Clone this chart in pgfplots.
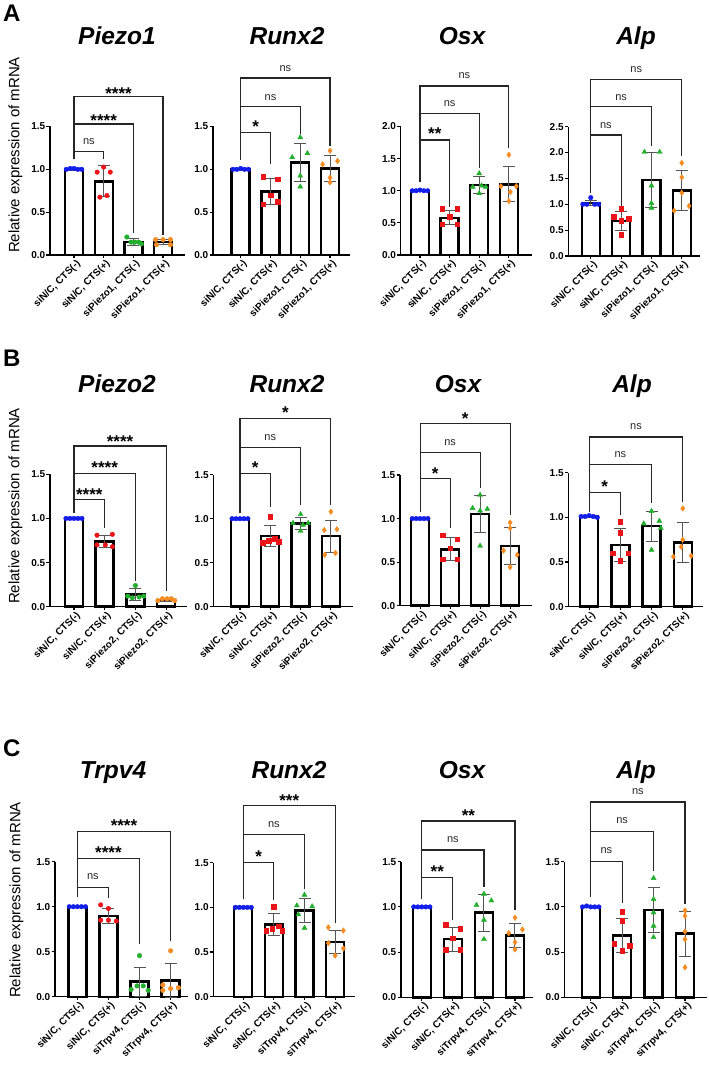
\documentclass[border=0pt]{standalone}
\usepackage{fontspec}
\setmainfont{Liberation Sans}
\usepackage{pgfplots}
\pgfplotsset{compat=1.18}

\definecolor{cblue}{RGB}{20,30,235}
\definecolor{cred}{RGB}{235,20,25}
\definecolor{cgreen}{RGB}{35,175,45}
\definecolor{corange}{RGB}{245,140,35}
\definecolor{errgray}{RGB}{85,85,85}

\newcommand{\ticklbl}{\fontsize{10}{11}\selectfont\bfseries}
\newcommand{\ttl}{\fontsize{24.5}{26}\selectfont\bfseries\itshape}
\newcommand{\panelletter}{\fontsize{24}{26}\selectfont\bfseries}
\newcommand{\ylab}{\fontsize{15}{16}\selectfont}

% bracket: right bar, label x, bracket height, left foot, right foot, label height, label style, label
\newcommand{\brk}[8]{%
  \draw[brkline] (axis cs:0,#4) |- (axis cs:#1,#3) -- (axis cs:#1,#5);
  \node[#7] at (axis cs:#2,#6) {#8};}

\tikzset{
  brkline/.style={line width=1.2pt, black!85},
  nsl/.style={anchor=base, yshift=-2.9pt, inner sep=0pt, font=\fontsize{11}{12}\selectfont, text=black!85},
  stl/.style={anchor=base, yshift=-9.8pt, inner sep=0pt, font=\fontsize{17}{18}\selectfont\bfseries},
}

\pgfplotsset{
  panel/.style={
    scale only axis, clip=false, anchor=south west,
    axis lines=left, axis line style={-, line width=1.3pt, black},
    ymin=0, ytick distance=0.5, xtick={0,1,2,3},
    major tick length=3.5pt, tick align=outside,
    tick style={line width=1.1pt, black},
    y tick label style={font=\ticklbl, inner xsep=1pt,
      /pgf/number format/fixed, /pgf/number format/fixed zerofill,
      /pgf/number format/precision=1, /pgf/number format/assume math mode=true},
    x tick label style={font=\ticklbl, rotate=45, anchor=east, inner sep=1pt, xshift=2pt, yshift=-6pt},
  },
  rowA/.style={panel, height=128.5pt, xticklabels={{siN/C, CTS(-)},{siN/C, CTS(+)},{siPiezo1, CTS(-)},{siPiezo1, CTS(+)}}},
  rowB/.style={panel, xticklabels={{siN/C, CTS(-)},{siN/C, CTS(+)},{siPiezo2, CTS(-)},{siPiezo2, CTS(+)}}},
  rowC/.style={panel, xticklabels={{siN/C, CTS(-)},{siN/C, CTS(+)},{siTrpv4, CTS(-)},{siTrpv4, CTS(+)}}},
  meanbar/.style={ybar, bar width=18pt, fill=white, draw=black, line width=2.4pt, mark=none,
    error bars/.cd, y dir=both, y explicit,
    error bar style={line width=1pt, draw=errgray},
    error mark options={rotate=90, line width=1pt, draw=errgray, mark size=6pt}},
  pts/.style 2 args={only marks, color=#2, mark=#1,
    mark options={solid, fill=#2, draw=#2, line width=0.4pt}},
  ptb/.style={pts={*}{cblue}, mark size=2.3pt},
  ptrc/.style={pts={*}{cred}, mark size=2.3pt},
  ptgc/.style={pts={*}{cgreen}, mark size=2.3pt},
  ptoc/.style={pts={*}{corange}, mark size=2.3pt},
  ptrs/.style={pts={square*}{cred}, mark size=2.3pt},
  ptgt/.style={pts={triangle*}{cgreen}, mark size=2.9pt},
  ptod/.style={pts={diamond*}{corange}, mark size=2.8pt},
}

\begin{document}
\begin{tikzpicture}[x=1pt, y=1pt]
\path[use as bounding box] (0,0) rectangle (709,1069);

% ---------------- Row A ----------------
\node[anchor=base west, inner sep=0pt] at (3,1047) {\panelletter A};
\node[rotate=90, inner sep=0pt] at (15.5,914) {\ylab Relative expression of mRNA};

% Piezo1
\begin{axis}[rowA, at={(50pt,814pt)}, width=135pt, xmin=-0.81, xmax=3.74, ymax=1.5]
\addplot[meanbar] coordinates {(0,1.00) +- (0,0.01) (1,0.86) +- (0,0.18) (2,0.15) +- (0,0.045) (3,0.15) +- (0,0.03)};
\addplot[ptb]  coordinates {(-0.26,1.00) (-0.13,1.01) (0,1.01) (0.13,1.00) (0.26,1.00)};
\addplot[ptrc] coordinates {(0.78,0.967) (1,1.026) (1.22,0.967) (0.87,0.675) (1.11,0.694)};
\addplot[ptgc] coordinates {(1.78,0.21) (1.92,0.15) (2.05,0.15) (2.18,0.15) (2.27,0.13)};
\addplot[ptoc] coordinates {(2.75,0.18) (3,0.18) (3.25,0.18) (2.78,0.12) (3.25,0.12)};
\brk{1}{0.5}{1.206}{1.117}{1.117}{1.32}{nsl}{ns}
\brk{2}{1}{1.529}{1.117}{0.253}{1.62}{stl}{****}
\brk{3}{1.5}{1.848}{1.117}{0.233}{1.93}{stl}{****}
\end{axis}
\node[anchor=base] at (117,1024) {\ttl Piezo1};

% Runx2
\begin{axis}[rowA, at={(213pt,814pt)}, width=137pt, xmin=-0.93, xmax=3.67, ymax=1.5]
\addplot[meanbar] coordinates {(0,1.00) +- (0,0.01) (1,0.74) +- (0,0.15) (2,1.08) +- (0,0.22) (3,1.01) +- (0,0.15)};
\addplot[ptb]  coordinates {(-0.26,1.00) (-0.13,1.00) (0,1.01) (0.13,1.00) (0.26,1.00)};
\addplot[ptrs] coordinates {(0.76,0.914) (1.24,0.883) (1,0.70) (0.76,0.592) (1.24,0.622)};
\addplot[ptgt] coordinates {(2,1.373) (1.73,1.14) (2.24,1.187) (2,0.925) (2,0.797)};
\addplot[ptod] coordinates {(3,1.217) (2.75,1.058) (3.25,1.097) (3,0.902) (3,0.848)};
\brk{1}{0.5}{1.434}{1.11}{1.066}{1.55}{stl}{*}
\brk{2}{1}{1.733}{1.11}{1.41}{1.84}{nsl}{ns}
\brk{3}{1.5}{2.066}{1.11}{1.27}{2.17}{nsl}{ns}
\end{axis}
\node[anchor=base] at (287,1024) {\ttl Runx2};

% Osx
\begin{axis}[rowA, at={(400.7pt,814pt)}, width=131pt, xmin=-0.65, xmax=3.77, ymax=2.0]
\addplot[meanbar] coordinates {(0,1.00) +- (0,0.01) (1,0.58) +- (0,0.11) (2,1.09) +- (0,0.13) (3,1.10) +- (0,0.27)};
\addplot[ptb]  coordinates {(-0.26,1.00) (-0.13,1.00) (0,1.01) (0.13,1.00) (0.26,1.00)};
\addplot[ptrs] coordinates {(0.75,0.72) (1.25,0.72) (1,0.60) (0.75,0.48) (1.25,0.48)};
\addplot[ptgt] coordinates {(2,1.27) (1.78,1.06) (2.22,1.06) (2.08,1.08) (2,0.96)};
\addplot[ptod] coordinates {(3,1.56) (2.73,1.07) (3.25,1.07) (3.05,0.98) (3,0.84)};
\brk{1}{0.5}{1.79}{1.13}{0.75}{1.95}{stl}{**}
\brk{2}{1}{2.20}{1.13}{1.35}{2.35}{nsl}{ns}
\brk{3}{1.5}{2.63}{1.13}{1.66}{2.79}{nsl}{ns}
\end{axis}
\node[anchor=base] at (462,1024) {\ttl Osx};

% Alp
\begin{axis}[rowA, at={(568.3pt,813pt)}, width=131.7pt, height=129.3pt, xmin=-0.74, xmax=3.60, ymax=2.5]
\addplot[meanbar] coordinates {(0,1.02) +- (0,0.05) (1,0.68) +- (0,0.18) (2,1.47) +- (0,0.53) (3,1.27) +- (0,0.39)};
\addplot[ptb]  coordinates {(0,1.128) (-0.26,1.00) (-0.13,1.00) (0.13,1.00) (0.26,1.00)};
\addplot[ptrs] coordinates {(1,0.909) (0.76,0.76) (1.26,0.72) (1,0.683) (1,0.406)};
\addplot[ptgt] coordinates {(1.77,2.01) (2.27,2.01) (2,1.36) (2,1.02) (2,0.93)};
\addplot[ptod] coordinates {(3,1.80) (3,1.52) (3,1.22) (2.75,0.876) (3.24,0.967)};
\brk{1}{0.5}{2.34}{1.21}{0.955}{2.52}{nsl}{ns}
\brk{2}{1}{2.89}{1.21}{2.12}{3.06}{nsl}{ns}
\brk{3}{1.5}{3.42}{1.21}{1.94}{3.60}{nsl}{ns}
\end{axis}
\node[anchor=base] at (636,1024) {\ttl Alp};

% ---------------- Row B ----------------
\node[anchor=base west, inner sep=0pt] at (3,702) {\panelletter B};
\node[rotate=90, inner sep=0pt] at (15.5,563) {\ylab Relative expression of mRNA};

% Piezo2
\begin{axis}[rowB, at={(50pt,462.3pt)}, width=136.7pt, height=132.4pt, xmin=-0.78, xmax=3.67, ymax=1.5]
\addplot[meanbar] coordinates {(0,1.00) +- (0,0.005) (1,0.74) +- (0,0.065) (2,0.14) +- (0,0.065) (3,0.075) +- (0,0.012)};
\addplot[ptb]  coordinates {(-0.26,1.00) (-0.13,1.00) (0,1.00) (0.13,1.00) (0.26,1.00)};
\addplot[ptrc] coordinates {(0.75,0.81) (1.25,0.82) (0.75,0.70) (1.02,0.70) (1.25,0.68)};
\addplot[ptgc] coordinates {(2,0.24) (1.75,0.12) (1.9,0.10) (2.12,0.11) (2.27,0.12)};
\addplot[ptoc] coordinates {(2.73,0.07) (2.88,0.09) (3.03,0.09) (3.17,0.09) (3.28,0.07)};
\brk{1}{0.5}{1.21}{1.065}{0.89}{1.31}{stl}{****}
\brk{2}{1}{1.51}{1.065}{0.295}{1.62}{stl}{****}
\brk{3}{1.5}{1.82}{1.065}{0.18}{1.92}{stl}{****}
\end{axis}
\node[anchor=base] at (117,676) {\ttl Piezo2};

% Runx2
\begin{axis}[rowB, at={(213.3pt,462.3pt)}, width=139.7pt, height=132pt, xmin=-0.88, xmax=3.73, ymax=1.5]
\addplot[meanbar] coordinates {(0,1.00) +- (0,0.005) (1,0.80) +- (0,0.12) (2,0.944) +- (0,0.07) (3,0.80) +- (0,0.18)};
\addplot[ptb]  coordinates {(-0.26,1.00) (-0.13,1.00) (0,1.00) (0.13,1.00) (0.26,1.00)};
\addplot[ptrs] coordinates {(1,1.02) (0.75,0.73) (0.95,0.75) (1.15,0.77) (1.27,0.74)};
\addplot[ptgt] coordinates {(2,1.05) (1.75,0.95) (2.25,0.95) (2.08,0.93) (2,0.86)};
\addplot[ptod] coordinates {(3,1.08) (2.78,0.87) (3.2,0.88) (3.15,0.61) (2.8,0.59)};
\brk{1}{0.5}{1.51}{1.065}{1.13}{1.62}{stl}{*}
\brk{2}{1}{1.81}{1.065}{1.15}{1.92}{nsl}{ns}
\brk{3}{1.5}{2.14}{1.065}{1.16}{2.25}{stl}{*}
\end{axis}
\node[anchor=base] at (287,676) {\ttl Runx2};

% Osx
\begin{axis}[rowB, at={(400pt,463.3pt)}, width=131.7pt, height=130.7pt, xmin=-0.67, xmax=3.72, ymax=1.5]
\addplot[meanbar] coordinates {(0,1.00) +- (0,0.005) (1,0.647) +- (0,0.13) (2,1.05) +- (0,0.21) (3,0.685) +- (0,0.215)};
\addplot[ptb]  coordinates {(-0.26,1.00) (-0.13,1.00) (0,1.00) (0.13,1.00) (0.26,1.00)};
\addplot[ptrs] coordinates {(0.76,0.81) (1.24,0.764) (1,0.66) (0.76,0.535) (1.24,0.535)};
\addplot[ptgt] coordinates {(2,1.27) (1.75,1.12) (2,1.09) (2.24,1.11) (2,0.687)};
\addplot[ptod] coordinates {(3,0.954) (3,0.89) (2.78,0.633) (3.24,0.584) (3,0.443)};
\brk{1}{0.5}{1.46}{1.07}{0.89}{1.56}{stl}{*}
\brk{2}{1}{1.76}{1.07}{1.35}{1.87}{nsl}{ns}
\brk{3}{1.5}{2.09}{1.07}{1.04}{2.19}{stl}{*}
\end{axis}
\node[anchor=base] at (458,676) {\ttl Osx};

% Alp
\begin{axis}[rowB, at={(568.3pt,462.3pt)}, width=134.7pt, height=134pt, xmin=-0.67, xmax=3.65, ymax=1.5]
\addplot[meanbar] coordinates {(0,1.01) +- (0,0.01) (1,0.69) +- (0,0.18) (2,0.90) +- (0,0.165) (3,0.72) +- (0,0.22)};
\addplot[ptb]  coordinates {(-0.26,1.01) (-0.13,1.01) (0,1.02) (0.13,1.01) (0.26,1.00)};
\addplot[ptrs] coordinates {(1,0.95) (1,0.83) (0.75,0.60) (1.25,0.60) (1,0.515)};
\addplot[ptgt] coordinates {(2,1.07) (1.75,0.93) (2.25,0.96) (2.3,0.88) (2,0.635)};
\addplot[ptod] coordinates {(3,1.10) (3,0.75) (2.95,0.67) (2.7,0.56) (3.27,0.57)};
\brk{1}{0.5}{1.28}{1.06}{1.03}{1.39}{stl}{*}
\brk{2}{1}{1.59}{1.06}{1.16}{1.70}{nsl}{ns}
\brk{3}{1.5}{1.90}{1.06}{1.175}{2.02}{nsl}{ns}
\end{axis}
\node[anchor=base] at (632,676) {\ttl Alp};

% ---------------- Row C ----------------
\node[anchor=base west, inner sep=0pt] at (3,312) {\panelletter C};
\node[rotate=90, inner sep=0pt] at (16.5,169) {\ylab Relative expression of mRNA};

% Trpv4
\begin{axis}[rowC, at={(55pt,72.3pt)}, width=133.3pt, height=135pt, xmin=-0.72, xmax=3.57, ymax=1.5]
\addplot[meanbar] coordinates {(0,1.00) +- (0,0.005) (1,0.90) +- (0,0.085) (2,0.167) +- (0,0.16) (3,0.18) +- (0,0.19)};
\addplot[ptb]  coordinates {(-0.26,1.00) (-0.13,1.00) (0,1.00) (0.13,1.00) (0.26,1.00)};
\addplot[ptrc] coordinates {(0.75,1.02) (1,0.98) (0.75,0.85) (1,0.85) (1.25,0.84)};
\addplot[ptgc] coordinates {(2,0.456) (1.73,0.08) (1.92,0.12) (2.12,0.12) (2.28,0.07)};
\addplot[ptoc] coordinates {(3,0.51) (2.75,0.13) (2.75,0.07) (3,0.09) (3.25,0.10)};
\brk{1}{0.5}{1.21}{1.11}{1.10}{1.33}{nsl}{ns}
\brk{2}{1}{1.537}{1.11}{0.59}{1.64}{stl}{****}
\brk{3}{1.5}{1.84}{1.11}{0.62}{1.94}{stl}{****}
\end{axis}
\node[anchor=base] at (113,290) {\ttl Trpv4};

% Runx2
\begin{axis}[rowC, at={(213.3pt,72.3pt)}, width=141.7pt, height=134pt, xmin=-0.98, xmax=3.65, ymax=1.5]
\addplot[meanbar] coordinates {(0,1.00) +- (0,0.005) (1,0.81) +- (0,0.12) (2,0.965) +- (0,0.135) (3,0.615) +- (0,0.13)};
\addplot[ptb]  coordinates {(-0.26,1.00) (-0.13,1.00) (0,1.00) (0.13,1.00) (0.26,1.00)};
\addplot[ptrs] coordinates {(1,1.01) (0.75,0.74) (0.95,0.76) (1.15,0.79) (1.27,0.74)};
\addplot[ptgt] coordinates {(2,1.14) (1.75,1.02) (2.25,1.01) (1.8,0.92) (2,0.77)};
\addplot[ptod] coordinates {(2.78,0.776) (3.27,0.74) (2.78,0.60) (3.27,0.54) (3,0.46)};
\brk{1}{0.5}{1.50}{1.09}{1.08}{1.61}{stl}{*}
\brk{2}{1}{1.82}{1.09}{1.21}{1.93}{nsl}{ns}
\brk{3}{1.5}{2.14}{1.09}{0.82}{2.24}{stl}{***}
\end{axis}
\node[anchor=base] at (289,290) {\ttl Runx2};

% Osx
\begin{axis}[rowC, at={(401pt,71.7pt)}, width=131.7pt, height=135.6pt, xmin=-0.67, xmax=3.57, ymax=1.5]
\addplot[meanbar] coordinates {(0,1.00) +- (0,0.005) (1,0.642) +- (0,0.13) (2,0.937) +- (0,0.205) (3,0.683) +- (0,0.13)};
\addplot[ptb]  coordinates {(-0.26,1.00) (-0.13,1.00) (0,1.00) (0.13,1.00) (0.26,1.00)};
\addplot[ptrs] coordinates {(0.76,0.80) (1.24,0.756) (1,0.653) (0.76,0.524) (1.24,0.524)};
\addplot[ptgt] coordinates {(2,1.144) (1.76,1.02) (2.24,1.07) (2,0.856) (2,0.642)};
\addplot[ptod] coordinates {(3,0.88) (2.8,0.71) (3.24,0.75) (3,0.61) (3,0.53)};
\brk{1}{0.5}{1.325}{1.085}{0.856}{1.435}{stl}{**}
\brk{2}{1}{1.63}{1.085}{1.225}{1.75}{nsl}{ns}
\brk{3}{1.5}{1.95}{1.085}{0.967}{2.055}{stl}{**}
\end{axis}
\node[anchor=base] at (462,290) {\ttl Osx};

% Alp
\begin{axis}[rowC, at={(564.3pt,71.7pt)}, width=142.4pt, height=135.6pt, xmin=-0.84, xmax=3.69, ymax=1.5]
\addplot[meanbar] coordinates {(0,1.00) +- (0,0.005) (1,0.685) +- (0,0.185) (2,0.963) +- (0,0.25) (3,0.704) +- (0,0.25)};
\addplot[ptb]  coordinates {(-0.26,1.00) (-0.13,1.01) (0,1.00) (0.13,1.00) (0.26,1.00)};
\addplot[ptrs] coordinates {(1,0.948) (1,0.845) (0.75,0.59) (1.24,0.568) (1,0.516)};
\addplot[ptgt] coordinates {(2,1.318) (2,1.085) (2,0.937) (2,0.79) (2,0.664)};
\addplot[ptod] coordinates {(3,0.959) (3,0.90) (3,0.727) (3,0.642) (3,0.332)};
\brk{1}{0.5}{1.50}{1.11}{1.04}{1.62}{nsl}{ns}
\brk{2}{1}{1.83}{1.11}{1.40}{1.95}{nsl}{ns}
\brk{3}{1.5}{2.16}{1.11}{1.03}{2.27}{nsl}{ns}
\end{axis}
\node[anchor=base] at (636,290) {\ttl Alp};

\end{tikzpicture}
\end{document}
